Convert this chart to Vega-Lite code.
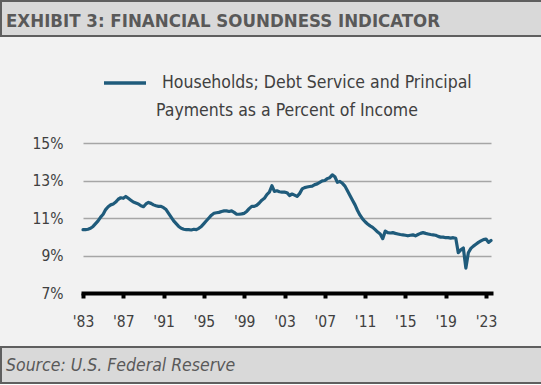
{
  "$schema": "https://vega.github.io/schema/vega-lite/v6.json",
  "background": "#f2f2f2",
  "padding": 0,
  "columns": 1,
  "align": "none",
  "spacing": 99,
  "config": {"view": {"stroke": null}, "font": "DejaVu Sans Condensed"},
  "concat": [
    {
      "width": 541,
      "height": 35,
      "view": {"fill": "#d9d9d9", "stroke": "#5f5f5f", "strokeWidth": 2},
      "data": {"values": [{"label": "EXHIBIT 3: FINANCIAL SOUNDNESS INDICATOR"}]},
      "mark": {"type": "text", "align": "left", "baseline": "middle", "dx": 5, "dy": 2, "font": "DejaVu Sans Condensed", "fontWeight": "bold", "fontSize": 18.5, "color": "#595959"},
      "encoding": {
        "x": {"datum": 0, "type": "quantitative", "scale": {"domain": [0, 1]}, "axis": null},
        "text": {"field": "label"}
      }
    },
    {
      "columns": 1,
      "align": "none",
      "spacing": 16,
      "concat": [
        {
          "width": 490,
          "height": 150,
          "data": {"values": [
            {"date": "1983-01-01", "value": 10.38}, {"date": "1983-04-01", "value": 10.38}, {"date": "1983-07-01", "value": 10.40}, {"date": "1983-10-01", "value": 10.45},
            {"date": "1984-01-01", "value": 10.55}, {"date": "1984-04-01", "value": 10.70}, {"date": "1984-07-01", "value": 10.85}, {"date": "1984-10-01", "value": 11.05},
            {"date": "1985-01-01", "value": 11.20}, {"date": "1985-04-01", "value": 11.45}, {"date": "1985-07-01", "value": 11.60}, {"date": "1985-10-01", "value": 11.70},
            {"date": "1986-01-01", "value": 11.75}, {"date": "1986-04-01", "value": 11.85}, {"date": "1986-07-01", "value": 12.00}, {"date": "1986-10-01", "value": 12.08},
            {"date": "1987-01-01", "value": 12.05}, {"date": "1987-04-01", "value": 12.15}, {"date": "1987-07-01", "value": 12.05}, {"date": "1987-10-01", "value": 11.95},
            {"date": "1988-01-01", "value": 11.85}, {"date": "1988-04-01", "value": 11.80}, {"date": "1988-07-01", "value": 11.75}, {"date": "1988-10-01", "value": 11.65},
            {"date": "1989-01-01", "value": 11.60}, {"date": "1989-04-01", "value": 11.75}, {"date": "1989-07-01", "value": 11.83}, {"date": "1989-10-01", "value": 11.78},
            {"date": "1990-01-01", "value": 11.70}, {"date": "1990-04-01", "value": 11.65}, {"date": "1990-07-01", "value": 11.62}, {"date": "1990-10-01", "value": 11.62},
            {"date": "1991-01-01", "value": 11.55}, {"date": "1991-04-01", "value": 11.45}, {"date": "1991-07-01", "value": 11.25}, {"date": "1991-10-01", "value": 11.05},
            {"date": "1992-01-01", "value": 10.85}, {"date": "1992-04-01", "value": 10.70}, {"date": "1992-07-01", "value": 10.55}, {"date": "1992-10-01", "value": 10.45},
            {"date": "1993-01-01", "value": 10.40}, {"date": "1993-04-01", "value": 10.38}, {"date": "1993-07-01", "value": 10.38}, {"date": "1993-10-01", "value": 10.36},
            {"date": "1994-01-01", "value": 10.40}, {"date": "1994-04-01", "value": 10.38}, {"date": "1994-07-01", "value": 10.45}, {"date": "1994-10-01", "value": 10.55},
            {"date": "1995-01-01", "value": 10.70}, {"date": "1995-04-01", "value": 10.85}, {"date": "1995-07-01", "value": 11.00}, {"date": "1995-10-01", "value": 11.15},
            {"date": "1996-01-01", "value": 11.25}, {"date": "1996-04-01", "value": 11.28}, {"date": "1996-07-01", "value": 11.30}, {"date": "1996-10-01", "value": 11.35},
            {"date": "1997-01-01", "value": 11.38}, {"date": "1997-04-01", "value": 11.38}, {"date": "1997-07-01", "value": 11.35}, {"date": "1997-10-01", "value": 11.38},
            {"date": "1998-01-01", "value": 11.30}, {"date": "1998-04-01", "value": 11.20}, {"date": "1998-07-01", "value": 11.20}, {"date": "1998-10-01", "value": 11.22},
            {"date": "1999-01-01", "value": 11.25}, {"date": "1999-04-01", "value": 11.35}, {"date": "1999-07-01", "value": 11.50}, {"date": "1999-10-01", "value": 11.62},
            {"date": "2000-01-01", "value": 11.62}, {"date": "2000-04-01", "value": 11.68}, {"date": "2000-07-01", "value": 11.80}, {"date": "2000-10-01", "value": 11.95},
            {"date": "2001-01-01", "value": 12.05}, {"date": "2001-04-01", "value": 12.25}, {"date": "2001-07-01", "value": 12.38}, {"date": "2001-10-01", "value": 12.72},
            {"date": "2002-01-01", "value": 12.42}, {"date": "2002-04-01", "value": 12.45}, {"date": "2002-07-01", "value": 12.40}, {"date": "2002-10-01", "value": 12.38},
            {"date": "2003-01-01", "value": 12.38}, {"date": "2003-04-01", "value": 12.35}, {"date": "2003-07-01", "value": 12.20}, {"date": "2003-10-01", "value": 12.28},
            {"date": "2004-01-01", "value": 12.22}, {"date": "2004-04-01", "value": 12.15}, {"date": "2004-07-01", "value": 12.30}, {"date": "2004-10-01", "value": 12.55},
            {"date": "2005-01-01", "value": 12.62}, {"date": "2005-04-01", "value": 12.65}, {"date": "2005-07-01", "value": 12.68}, {"date": "2005-10-01", "value": 12.70},
            {"date": "2006-01-01", "value": 12.78}, {"date": "2006-04-01", "value": 12.82}, {"date": "2006-07-01", "value": 12.90}, {"date": "2006-10-01", "value": 12.98},
            {"date": "2007-01-01", "value": 13.00}, {"date": "2007-04-01", "value": 13.10}, {"date": "2007-07-01", "value": 13.15}, {"date": "2007-10-01", "value": 13.30},
            {"date": "2008-01-01", "value": 13.20}, {"date": "2008-04-01", "value": 12.90}, {"date": "2008-07-01", "value": 12.95}, {"date": "2008-10-01", "value": 12.85},
            {"date": "2009-01-01", "value": 12.70}, {"date": "2009-04-01", "value": 12.45}, {"date": "2009-07-01", "value": 12.20}, {"date": "2009-10-01", "value": 11.95},
            {"date": "2010-01-01", "value": 11.70}, {"date": "2010-04-01", "value": 11.40}, {"date": "2010-07-01", "value": 11.15}, {"date": "2010-10-01", "value": 10.95},
            {"date": "2011-01-01", "value": 10.80}, {"date": "2011-04-01", "value": 10.68}, {"date": "2011-07-01", "value": 10.58}, {"date": "2011-10-01", "value": 10.50},
            {"date": "2012-01-01", "value": 10.38}, {"date": "2012-04-01", "value": 10.25}, {"date": "2012-07-01", "value": 10.15}, {"date": "2012-10-01", "value": 9.90},
            {"date": "2013-01-01", "value": 10.30}, {"date": "2013-04-01", "value": 10.22}, {"date": "2013-07-01", "value": 10.20}, {"date": "2013-10-01", "value": 10.22},
            {"date": "2014-01-01", "value": 10.18}, {"date": "2014-04-01", "value": 10.15}, {"date": "2014-07-01", "value": 10.12}, {"date": "2014-10-01", "value": 10.10},
            {"date": "2015-01-01", "value": 10.08}, {"date": "2015-04-01", "value": 10.05}, {"date": "2015-07-01", "value": 10.08}, {"date": "2015-10-01", "value": 10.10},
            {"date": "2016-01-01", "value": 10.05}, {"date": "2016-04-01", "value": 10.12}, {"date": "2016-07-01", "value": 10.18}, {"date": "2016-10-01", "value": 10.22},
            {"date": "2017-01-01", "value": 10.18}, {"date": "2017-04-01", "value": 10.15}, {"date": "2017-07-01", "value": 10.12}, {"date": "2017-10-01", "value": 10.10},
            {"date": "2018-01-01", "value": 10.08}, {"date": "2018-04-01", "value": 10.02}, {"date": "2018-07-01", "value": 9.98}, {"date": "2018-10-01", "value": 9.98},
            {"date": "2019-01-01", "value": 9.95}, {"date": "2019-04-01", "value": 9.95}, {"date": "2019-07-01", "value": 9.93}, {"date": "2019-10-01", "value": 9.95},
            {"date": "2020-01-01", "value": 9.92}, {"date": "2020-04-01", "value": 9.15}, {"date": "2020-07-01", "value": 9.30}, {"date": "2020-10-01", "value": 9.40},
            {"date": "2021-01-01", "value": 8.33}, {"date": "2021-04-01", "value": 9.15}, {"date": "2021-07-01", "value": 9.38}, {"date": "2021-10-01", "value": 9.50},
            {"date": "2022-01-01", "value": 9.60}, {"date": "2022-04-01", "value": 9.70}, {"date": "2022-07-01", "value": 9.78}, {"date": "2022-10-01", "value": 9.85},
            {"date": "2023-01-01", "value": 9.88}, {"date": "2023-04-01", "value": 9.70}, {"date": "2023-07-01", "value": 9.80}
          ]},
          "mark": {"type": "line", "strokeWidth": 3.2, "strokeJoin": "round", "strokeCap": "round"},
          "encoding": {
            "x": {
              "field": "date",
              "type": "temporal",
              "scale": {"type": "utc", "domain": [{"year": 1983, "month": 1, "date": 1, "utc": true}, {"year": 2023, "month": 7, "date": 1, "utc": true}], "range": [82, 490]},
              "axis": {
                "title": null,
                "grid": false,
                "values": [
                  {"year": 1983, "utc": true}, {"year": 1987, "utc": true}, {"year": 1991, "utc": true}, {"year": 1995, "utc": true},
                  {"year": 1999, "utc": true}, {"year": 2003, "utc": true}, {"year": 2007, "utc": true}, {"year": 2011, "utc": true},
                  {"year": 2015, "utc": true}, {"year": 2019, "utc": true}, {"year": 2023, "utc": true}
                ],
                "labelExpr": "\"'\" + utcFormat(datum.value, '%y')",
                "domainColor": "#000000",
                "domainWidth": 4,
                "domainCap": "square",
                "tickColor": "#000000",
                "tickWidth": 4,
                "tickSize": 5,
                "labelFont": "DejaVu Sans Condensed",
                "labelFontSize": 15.5,
                "labelColor": "#404040",
                "labelPadding": 16,
                "labelFlush": false,
                "labelOverlap": false
              }
            },
            "y": {
              "field": "value",
              "type": "quantitative",
              "scale": {"domain": [7, 15], "nice": false, "zero": false},
              "axis": {
                "title": null,
                "values": [7, 9, 11, 13, 15],
                "labelExpr": "datum.value + '%'",
                "domain": false,
                "ticks": false,
                "grid": true,
                "gridColor": "#a6a6a6",
                "gridWidth": 1.5,
                "labelFont": "DejaVu Sans Condensed",
                "labelFontSize": 15.5,
                "labelColor": "#404040",
                "labelPadding": 20,
                "offset": -82,
                "minExtent": 0,
                "maxExtent": 0
              }
            },
            "color": {
              "datum": "Households; Debt Service and Principal",
              "type": "nominal",
              "scale": {"range": ["#1f5b7b"]},
              "legend": {
                "orient": "none",
                "legendX": 101,
                "legendY": 59,
                "padding": 0,
                "title": "Payments as a Percent of Income",
                "titleOrient": "bottom",
                "titleAnchor": "middle",
                "titleFont": "DejaVu Sans Condensed",
                "titleFontSize": 17.5,
                "titleFontWeight": "normal",
                "titleColor": "#404040",
                "titlePadding": 10,
                "titleLimit": 500,
                "labelFont": "DejaVu Sans Condensed",
                "labelFontSize": 17.5,
                "labelColor": "#404040",
                "labelOffset": 14,
                "labelLimit": 500,
                "symbolType": "stroke",
                "symbolSize": 1764,
                "symbolStrokeWidth": 3.5
              }
            }
          }
        },
        {
          "width": 541,
          "height": 36,
          "view": {"fill": "#d9d9d9", "stroke": "#5f5f5f", "strokeWidth": 2},
          "data": {"values": [{"label": "Source: U.S. Federal Reserve"}]},
          "mark": {"type": "text", "align": "left", "baseline": "middle", "dx": 5, "dy": 1, "font": "DejaVu Sans Condensed", "fontStyle": "italic", "fontSize": 17.5, "color": "#595959"},
          "encoding": {
            "x": {"datum": 0, "type": "quantitative", "scale": {"domain": [0, 1]}, "axis": null},
            "text": {"field": "label"}
          }
        }
      ]
    }
  ]
}
